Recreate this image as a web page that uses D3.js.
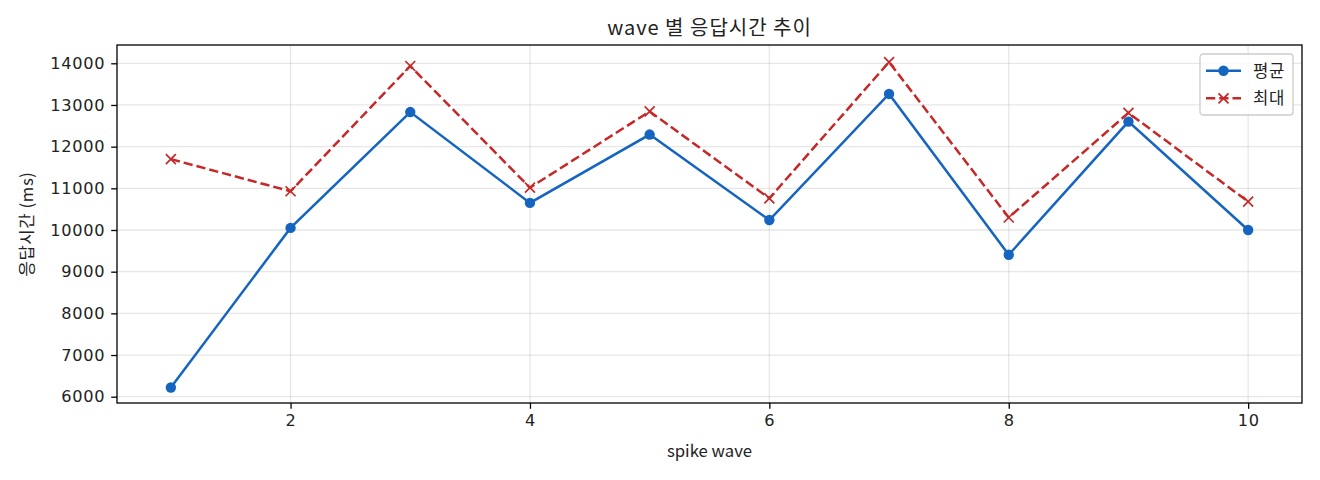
<!DOCTYPE html>
<html>
<head>
<meta charset="utf-8">
<script src="https://cdn.jsdelivr.net/npm/d3@7"></script>
<style>
  body { margin: 0; background: #fff; }
  svg text { font-family: "Noto Sans CJK KR", "Noto Sans", sans-serif; fill: #222; }
</style>
</head>
<body>
<svg id="chart" width="1320" height="480"></svg>
<script>
// spike wave 1..10
const waves = [1, 2, 3, 4, 5, 6, 7, 8, 9, 10];
const avgMs = [6220, 10050, 12830, 10650, 12290, 10240, 13265, 9405, 12600, 10000];
const maxMs = [11700, 10930, 13935, 11015, 12845, 10760, 14030, 10300, 12810, 10680];
const xTicks = [2, 4, 6, 8, 10];
const yTicks = [6000, 7000, 8000, 9000, 10000, 11000, 12000, 13000, 14000];

const svg = d3.select('#chart');
const margin = { left: 117, right: 18, top: 45, bottom: 77 };
const width = 1320 - margin.left - margin.right;
const height = 480 - margin.top - margin.bottom;

const blue = '#1565c0';
const red = '#c62828';

const xScale = d3.scaleLinear().domain([0.55, 10.45]).range([0, width]);
const yScale = d3.scaleLinear().domain([5849, 14439]).range([height, 0]);

const g = svg.append('g').attr('transform', `translate(${margin.left},${margin.top})`);

// grid
g.append('g')
  .selectAll('line')
  .data(xTicks)
  .join('line')
  .attr('x1', d => xScale(d)).attr('x2', d => xScale(d))
  .attr('y1', 0).attr('y2', height)
  .attr('stroke', '#b0b0b0').attr('stroke-opacity', 0.3).attr('stroke-width', 1.3);

g.append('g')
  .selectAll('line')
  .data(yTicks)
  .join('line')
  .attr('x1', 0).attr('x2', width)
  .attr('y1', d => yScale(d)).attr('y2', d => yScale(d))
  .attr('stroke', '#b0b0b0').attr('stroke-opacity', 0.3).attr('stroke-width', 1.3);

// axes
const xAxis = g.append('g')
  .attr('transform', `translate(0,${height})`)
  .call(d3.axisBottom(xScale).tickValues(xTicks).tickSize(5.8).tickPadding(6).tickFormat(d3.format('d')));

const yAxis = g.append('g')
  .call(d3.axisLeft(yScale).tickValues(yTicks).tickSize(5.8).tickPadding(6).tickFormat(d3.format('d')));

[xAxis, yAxis].forEach(ax => {
  ax.select('.domain').remove();
  ax.selectAll('line').attr('stroke', '#000').attr('stroke-width', 1.3);
  ax.selectAll('text').attr('font-size', 16.2).attr('fill', '#222')
    .attr('letter-spacing', 0.7)
    .style('font-family', '"DejaVu Sans", sans-serif');
});

// frame
g.append('rect')
  .attr('width', width).attr('height', height)
  .attr('fill', 'none').attr('stroke', '#000').attr('stroke-width', 1.3);

// lines
const pts = vals => waves.map((w, i) => [w, vals[i]]);
const line = d3.line().x(d => xScale(d[0])).y(d => yScale(d[1]));

g.append('path')
  .datum(pts(maxMs))
  .attr('d', line)
  .attr('fill', 'none')
  .attr('stroke', red)
  .attr('stroke-width', 2.5)
  .attr('stroke-dasharray', '9.25,4');

g.append('path')
  .datum(pts(avgMs))
  .attr('d', line)
  .attr('fill', 'none')
  .attr('stroke', blue)
  .attr('stroke-width', 2.5);

const xMarker = (sel, s) => sel.attr('d', `M${-s},${-s}L${s},${s}M${-s},${s}L${s},${-s}`)
  .attr('stroke', red).attr('stroke-width', 1.7).attr('fill', 'none');

g.append('g')
  .selectAll('path')
  .data(pts(maxMs))
  .join('path')
  .attr('transform', d => `translate(${xScale(d[0])},${yScale(d[1])})`)
  .call(xMarker, 5);

g.append('g')
  .selectAll('circle')
  .data(pts(avgMs))
  .join('circle')
  .attr('cx', d => xScale(d[0]))
  .attr('cy', d => yScale(d[1]))
  .attr('r', 5.2)
  .attr('fill', blue);

// legend
const lg = svg.append('g').attr('transform', 'translate(1200,54)');
lg.append('rect')
  .attr('width', 93).attr('height', 61).attr('rx', 3)
  .attr('fill', '#fff').attr('fill-opacity', 0.8)
  .attr('stroke', '#ccc').attr('stroke-width', 1.3);

const legendItems = [
  { label: '평균', color: blue, dash: null, marker: 'o' },
  { label: '최대', color: red, dash: '9.25,4', marker: 'x' }
];
legendItems.forEach((it, i) => {
  const y = 16.7 + i * 27.6;
  const row = lg.append('g').attr('transform', `translate(0,${y})`);
  row.append('line')
    .attr('x1', 6).attr('x2', 41).attr('y1', 0).attr('y2', 0)
    .attr('stroke', it.color).attr('stroke-width', 2.5)
    .attr('stroke-dasharray', it.dash);
  if (it.marker === 'o') {
    row.append('circle').attr('cx', 23.5).attr('cy', 0).attr('r', 5.2).attr('fill', it.color);
  } else {
    row.append('path').attr('transform', 'translate(23.5,0)').call(xMarker, 5);
  }
  row.append('text')
    .attr('x', 53).attr('y', 0).attr('dy', '0.35em')
    .attr('font-size', 16.7).attr('letter-spacing', 0.6)
    .text(it.label);
});

// titles
svg.append('text')
  .attr('x', margin.left + width / 2).attr('y', 35)
  .attr('text-anchor', 'middle').attr('font-size', 20)
  .attr('letter-spacing', 1)
  .text('wave 별 응답시간 추이');

svg.append('text')
  .attr('x', margin.left + width / 2).attr('y', 457)
  .attr('text-anchor', 'middle').attr('font-size', 16.7)
  .text('spike wave');

svg.append('text')
  .attr('transform', `translate(33,${margin.top + height / 2}) rotate(-90)`)
  .attr('text-anchor', 'middle').attr('font-size', 16.7)
  .attr('letter-spacing', 0.6)
  .text('응답시간 (ms)');
</script>
</body>
</html>
